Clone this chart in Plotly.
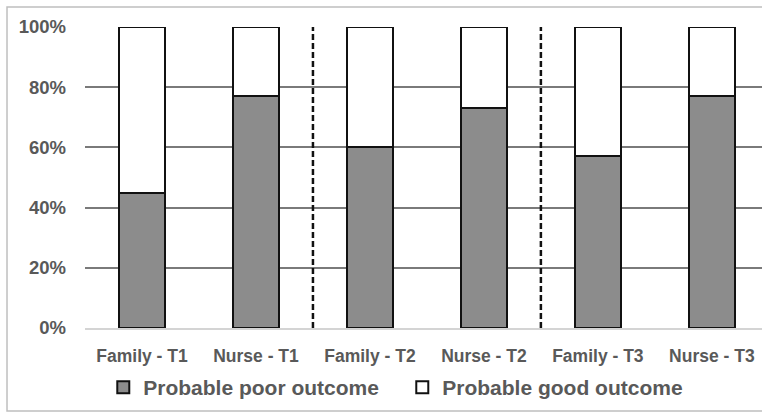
import plotly.graph_objects as go

# Rater / time-point groups and the share of patients in each outcome class (%)
categories = ["Family - T1", "Nurse - T1", "Family - T2", "Nurse - T2", "Family - T3", "Nurse - T3"]
poor_outcome = [45, 77, 60, 73, 57, 77]
good_outcome = [100 - v for v in poor_outcome]
y_ticks = [0, 20, 40, 60, 80, 100]
y_tick_labels = [f"{v}%" for v in y_ticks]

FONT = "Liberation Sans, Arial, sans-serif"
TEXT_GREY = "#595959"

fig = go.Figure()
fig.add_trace(go.Bar(
    name="Probable poor outcome", x=categories, y=poor_outcome,
    marker=dict(color="#8c8c8c", line=dict(color="#111111", width=2)),
))
fig.add_trace(go.Bar(
    name="Probable good outcome", x=categories, y=good_outcome,
    marker=dict(color="#ffffff", line=dict(color="#111111", width=2)),
))

# dashed separators between the time points
for k in (1, 3):
    fig.add_shape(type="line", xref="x", yref="paper",
                  x0=k + 0.5, x1=k + 0.5, y0=0, y1=1,
                  line=dict(color="#111111", width=2.5, dash="6px,3px"))

# outer chart frame
fig.add_shape(type="rect", xref="paper", yref="paper",
              x0=-0.1152, x1=1.02, y0=-0.2757, y1=1.0664,
              line=dict(color="#bfbfbf", width=1.5), layer="below")

fig.update_layout(
    width=762, height=414,
    margin=dict(l=85, r=0, t=27, b=86),
    barmode="stack", bargap=0.6,
    plot_bgcolor="white", paper_bgcolor="white",
    font=dict(family=FONT, color=TEXT_GREY),
    showlegend=True,
    legend=dict(orientation="h", x=0.027, xanchor="left", y=-0.13, yanchor="top",
                font=dict(size=21, family=FONT, color=TEXT_GREY, weight="bold"),
                traceorder="normal", entrywidth=254, entrywidthmode="pixels",
                itemwidth=30),
    xaxis=dict(range=[-0.5, 5.44], showgrid=False, showline=True,
               linecolor="#d4d4d4", linewidth=2, ticks="",
               tickfont=dict(size=17.5, family=FONT, color=TEXT_GREY, weight="bold"),
               ticklabelstandoff=11, fixedrange=True),
    yaxis=dict(range=[0, 100], tickmode="array", tickvals=y_ticks, ticktext=y_tick_labels,
               showgrid=True, gridcolor="#7a7a7a", gridwidth=1.5,
               zeroline=False, showline=False, ticks="",
               tickfont=dict(size=18.5, family=FONT, color=TEXT_GREY, weight="bold"),
               ticklabelstandoff=18),
)

fig.write_html("out.html")
